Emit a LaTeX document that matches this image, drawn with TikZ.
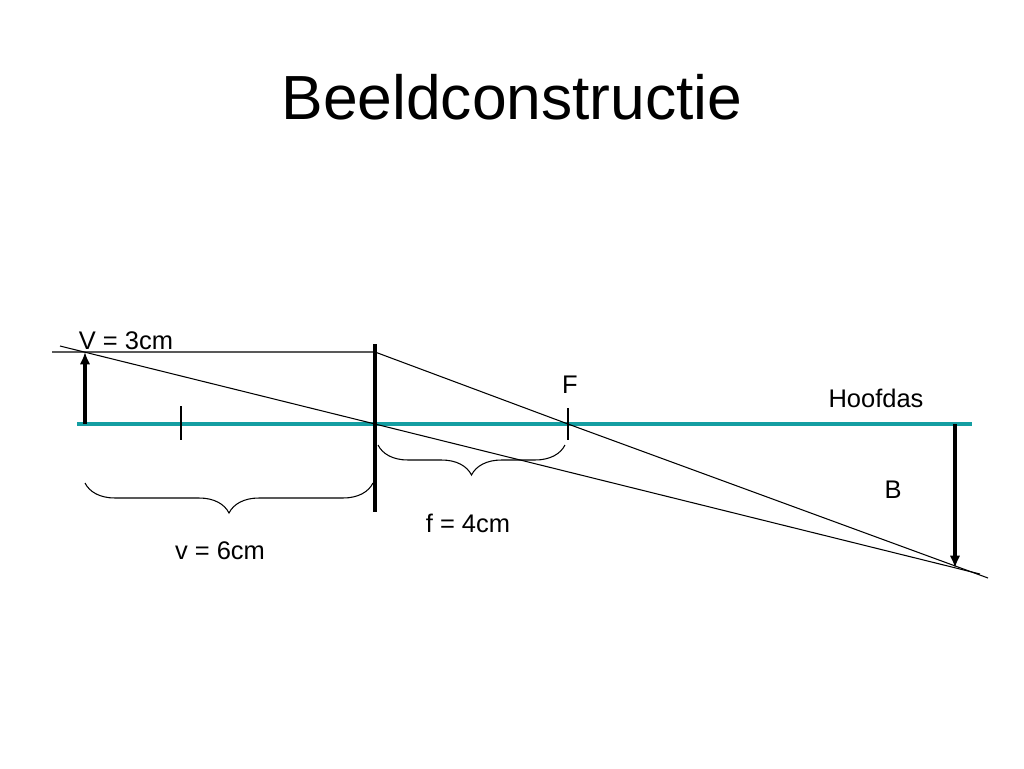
\documentclass[tikz,border=0pt]{standalone}
\usepackage{fontspec}
\setmainfont{Liberation Sans}
\usetikzlibrary{arrows.meta,decorations.pathreplacing}
\definecolor{asblauw}{RGB}{20,158,162}

\begin{document}
\begin{tikzpicture}[x=0.02cm,y=-0.02cm,
  straal/.style={line width=0.6pt},
  pijl/.style={line width=2.2pt,-{Latex[length=7pt,width=6pt]}},
  accolade/.style={decorate,decoration={brace,mirror,amplitude=0.6cm},line width=0.6pt},
  tekst/.style={font=\fontsize{14.5}{17}\selectfont,inner sep=0pt}]
\useasboundingbox (0,0) rectangle (1024,768);

\node (titel) at (512,97) {\fontsize{35.5}{40}\selectfont Beeldconstructie};

% hoofdas en lens
\coordinate (asbegin) at (77,424);
\coordinate (aseind) at (972,424);
\coordinate (midden) at (375,424);
\coordinate (lensboven) at (375,344);
\coordinate (lensonder) at (375,512);
\draw[asblauw,line width=1.9pt] (asbegin) -- (aseind);
\draw[line width=2pt] (lensboven) -- (lensonder);

% brandpunten
\coordinate (F1a) at (181,406); \coordinate (F1b) at (181,440);
\coordinate (F2a) at (568,408); \coordinate (F2b) at (568,440);
\coordinate (F) at (568,424);
\draw[straal] (F1a) -- (F1b);
\draw[straal] (F2a) -- (F2b);

% voorwerp en beeld
\coordinate (Vvoet) at (85,424);
\coordinate (Vtop) at (85,352);
\coordinate (Bvoet) at (955,424);
\coordinate (Btop) at (955,568);
\draw[pijl] (Vvoet) -- (Vtop);
\draw[pijl] (Bvoet) -- (Btop);

% stralen
\coordinate (s1) at (52,352);
\coordinate (s1lens) at (375,352);
\coordinate (s1eind) at (988,578);
\coordinate (s2) at (60,346);
\coordinate (s2eind) at (980,574);
\draw[straal] (s1) -- (s1lens) -- (F) -- (s1eind);
\draw[straal] (s2) -- (midden) -- (s2eind);

% accolades
\coordinate (va) at (85,483); \coordinate (vb) at (373,483);
\coordinate (fa) at (378,445); \coordinate (fb) at (565,445);
\draw[accolade] (va) -- (vb);
\draw[accolade] (fa) -- (fb);

% teksten
\node[tekst] (Vlabel) at (126,341) {V = 3cm};
\node[tekst] (Flabel) at (570,385) {F};
\node[tekst] (aslabel) at (876,398) {Hoofdas};
\node[tekst] (Blabel) at (893,490) {B};
\node[tekst] (vlabel) at (220,551) {v = 6cm};
\node[tekst] (flabel) at (468,523) {f = 4cm};
\end{tikzpicture}
\end{document}
